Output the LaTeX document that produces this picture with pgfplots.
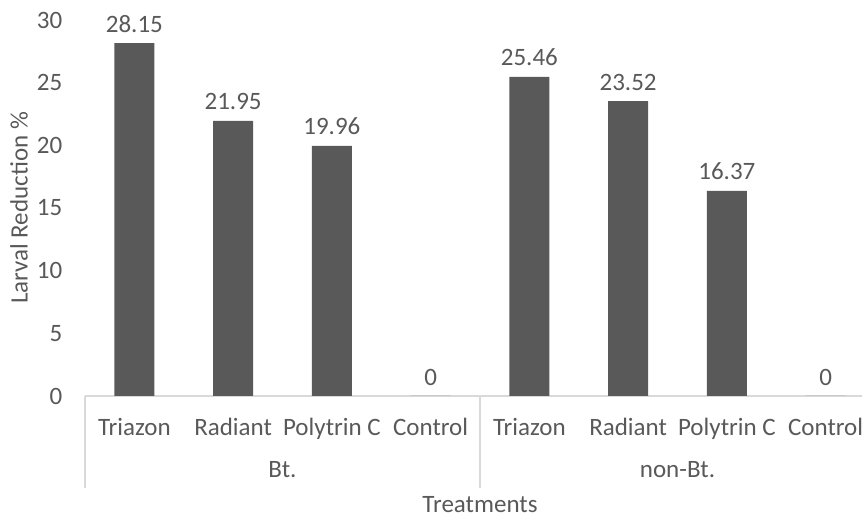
\documentclass[border=0pt]{standalone}
\usepackage{fontspec}
\setmainfont{Carlito}
\usepackage{pgfplots}
\pgfplotsset{compat=1.18}
\definecolor{bargray}{HTML}{595959}
\definecolor{txtgray}{HTML}{595959}
\definecolor{axgray}{HTML}{D9D9D9}

\begin{document}
\fontsize{12.5}{14}\selectfont
\begin{tikzpicture}
\begin{axis}[
  at={(0,0)}, anchor=south west,
  scale only axis, width=395pt, height=188pt,
  xmin=-0.5, xmax=7.5, ymin=0, ymax=30,
  ytick={0,5,...,30},
  xtick={0,...,7},
  xticklabels={Triazon,Radiant,Polytrin C,Control,Triazon,Radiant,Polytrin C,Control},
  extra x ticks={1.5,5.5},
  extra x tick labels={Bt.,non-Bt.},
  extra x tick style={tick label style={yshift=-21.5pt}},
  axis lines*=left,
  x axis line style={axgray, line width=0.8pt, -},
  y axis line style={draw=none},
  tick style={draw=none},
  ticklabel style={font=\fontsize{12.5}{14}\selectfont, text=txtgray},
  yticklabel style={xshift=-7pt},
  xticklabel style={yshift=-2.5pt},
  /pgf/number format/assume math mode=true,
  xlabel={Treatments},
  xlabel style={at={(axis description cs:0.5,0)}, anchor=center, yshift=-54.5pt, text=txtgray},
  ylabel={Larval Reduction \%},
  ylabel style={at={(axis description cs:0,0.5)}, anchor=center, yshift=33pt, text=txtgray},
  ybar, bar width=20pt, bar shift=0pt,
  nodes near coords,
  nodes near coords style={text=txtgray, font=\fontsize{12.5}{14}\selectfont, yshift=1pt, /pgf/number format/assume math mode=true},
  point meta=explicit symbolic,
  clip=false,
]
\addplot[fill=bargray, draw=none] coordinates {
  (0,28.15) [28.15] (1,21.95) [21.95] (2,19.96) [19.96] (3,0) [0]
  (4,25.46) [25.46] (5,23.52) [23.52] (6,16.37) [16.37] (7,0) [0]};
\draw[axgray, line width=0.8pt] (axis cs:-0.5,0) -- ([yshift=-46pt]axis cs:-0.5,0);
\draw[axgray, line width=0.8pt] (axis cs:3.5,0) -- ([yshift=-46pt]axis cs:3.5,0);
\draw[axgray, line width=0.8pt] (axis cs:7.5,0) -- ([yshift=-46pt]axis cs:7.5,0);
\end{axis}
\pgfresetboundingbox
\useasboundingbox (-42.5pt,-61pt) rectangle (388.5pt,198pt);
\end{tikzpicture}
\end{document}
